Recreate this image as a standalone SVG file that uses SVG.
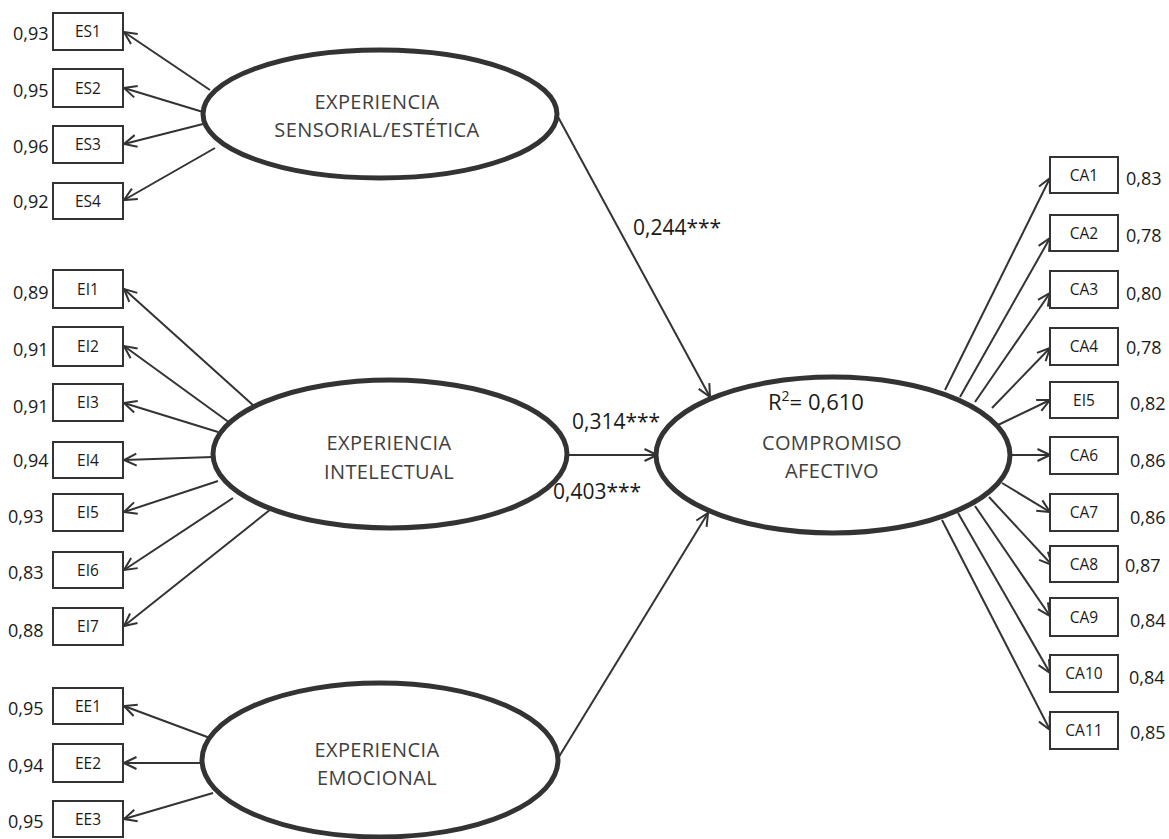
<svg xmlns="http://www.w3.org/2000/svg" width="1169" height="839" viewBox="0 0 1169 839">
<style>
.bg{fill:#fff}
.box{fill:#fff;stroke:#333;stroke-width:2}
.ell{fill:#fff;stroke:#333;stroke-width:5}
.ln{stroke:#333;stroke-width:2;fill:none;marker-end:url(#ah)}
.bl{font-family:"Open Sans","Liberation Sans",sans-serif;font-size:15.5px;fill:#1a1a1a;text-anchor:middle}
.val{font-family:"Open Sans","Liberation Sans",sans-serif;font-size:18px;fill:#1a1a1a}
.el{font-family:"Open Sans","Liberation Sans",sans-serif;font-size:20px;fill:#404040;text-anchor:middle;letter-spacing:0.4px}
.coef{font-family:"Open Sans","Liberation Sans",sans-serif;font-size:21px;fill:#1a1a1a}
</style>
<defs>
<marker id="ah" markerUnits="userSpaceOnUse" viewBox="0 0 15 15" markerWidth="15" markerHeight="15" refX="13.5" refY="7.5" orient="auto">
<path d="M1,1.5 L13.5,7.5 L1,13.5" fill="none" stroke="#333" stroke-width="2"/>
</marker>
</defs>
<rect class="bg" x="0" y="0" width="1169" height="839"/>
<g id="connectors">
<line class="ln" x1="210" y1="90" x2="124" y2="32"/>
<line class="ln" x1="203" y1="112" x2="124" y2="88"/>
<line class="ln" x1="203" y1="124" x2="124" y2="144"/>
<line class="ln" x1="215" y1="148" x2="124" y2="200"/>
<line class="ln" x1="254" y1="406" x2="124" y2="289"/>
<line class="ln" x1="230" y1="423" x2="124" y2="346"/>
<line class="ln" x1="218" y1="432" x2="124" y2="403"/>
<line class="ln" x1="213" y1="457" x2="124" y2="460"/>
<line class="ln" x1="218" y1="481" x2="124" y2="512"/>
<line class="ln" x1="233" y1="498" x2="124" y2="570"/>
<line class="ln" x1="271" y1="509" x2="124" y2="626"/>
<line class="ln" x1="210" y1="738" x2="124" y2="706"/>
<line class="ln" x1="202" y1="763" x2="124" y2="763"/>
<line class="ln" x1="213" y1="793" x2="124" y2="819"/>
<line class="ln" x1="557" y1="115" x2="710" y2="397"/>
<line class="ln" x1="568" y1="455" x2="657" y2="455"/>
<line class="ln" x1="557" y1="760" x2="708" y2="513"/>
<line class="ln" x1="945" y1="390" x2="1050" y2="178"/>
<line class="ln" x1="960" y1="397" x2="1050" y2="238"/>
<line class="ln" x1="975" y1="402" x2="1050" y2="293"/>
<line class="ln" x1="992" y1="408" x2="1050" y2="348"/>
<line class="ln" x1="998" y1="425" x2="1050" y2="400"/>
<line class="ln" x1="1010" y1="455" x2="1050" y2="455"/>
<line class="ln" x1="1002" y1="483" x2="1050" y2="512"/>
<line class="ln" x1="989" y1="497" x2="1052" y2="565"/>
<line class="ln" x1="975" y1="506" x2="1050" y2="616"/>
<line class="ln" x1="958" y1="513" x2="1050" y2="673"/>
<line class="ln" x1="942" y1="520" x2="1050" y2="730"/>
</g>
<g id="ES">
<ellipse class="ell" cx="380" cy="114" rx="177" ry="64"/>
<text class="el" x="377" y="109">EXPERIENCIA</text>
<text class="el" x="377" y="137">SENSORIAL/ESTÉTICA</text>
</g>
<g id="EI">
<ellipse class="ell" cx="390" cy="454" rx="177" ry="74"/>
<text class="el" x="389" y="450">EXPERIENCIA</text>
<text class="el" x="389" y="479">INTELECTUAL</text>
</g>
<g id="EE">
<ellipse class="ell" cx="380" cy="760" rx="178" ry="77"/>
<text class="el" x="377" y="757">EXPERIENCIA</text>
<text class="el" x="377" y="785">EMOCIONAL</text>
</g>
<g id="CA">
<ellipse class="ell" cx="833" cy="455" rx="177" ry="78"/>
<text class="coef" x="768" y="410" style="font-size:22px">R<tspan font-size="14" dy="-9">2</tspan><tspan dy="9">= 0,610</tspan></text>
<text class="el" x="832" y="450">COMPROMISO</text>
<text class="el" x="832" y="478">AFECTIVO</text>
</g>
<g id="coefs">
<text class="coef" x="633" y="235">0,244***</text>
<text class="coef" x="572" y="429">0,314***</text>
<text class="coef" x="553" y="499">0,403***</text>
</g>
<g id="ES1"><rect class="box" x="53" y="13" width="70" height="37"/><text class="bl" x="88" y="37">ES1</text><text class="val" x="13" y="40">0,93</text></g>
<g id="ES2"><rect class="box" x="53" y="69" width="70" height="38"/><text class="bl" x="88" y="93.5">ES2</text><text class="val" x="13" y="97">0,95</text></g>
<g id="ES3"><rect class="box" x="53" y="126" width="70" height="37"/><text class="bl" x="88" y="150">ES3</text><text class="val" x="13" y="153">0,96</text></g>
<g id="ES4"><rect class="box" x="53" y="183" width="70" height="36"/><text class="bl" x="88" y="206.5">ES4</text><text class="val" x="13" y="208">0,92</text></g>
<g id="EI1"><rect class="box" x="53" y="270" width="70" height="38"/><text class="bl" x="88" y="294.5">EI1</text><text class="val" x="13" y="299">0,89</text></g>
<g id="EI2"><rect class="box" x="53" y="327" width="70" height="39"/><text class="bl" x="88" y="352">EI2</text><text class="val" x="13" y="356">0,91</text></g>
<g id="EI3"><rect class="box" x="53" y="384" width="70" height="37"/><text class="bl" x="88" y="408">EI3</text><text class="val" x="13" y="413">0,91</text></g>
<g id="EI4"><rect class="box" x="53" y="442" width="70" height="36"/><text class="bl" x="88" y="465.5">EI4</text><text class="val" x="13" y="467">0,94</text></g>
<g id="EI5"><rect class="box" x="53" y="494" width="70" height="37"/><text class="bl" x="88" y="518">EI5</text><text class="val" x="8" y="523">0,93</text></g>
<g id="EI6"><rect class="box" x="53" y="552" width="70" height="36"/><text class="bl" x="88" y="575.5">EI6</text><text class="val" x="8" y="579">0,83</text></g>
<g id="EI7"><rect class="box" x="53" y="608" width="70" height="37"/><text class="bl" x="88" y="632">EI7</text><text class="val" x="8" y="637">0,88</text></g>
<g id="EE1"><rect class="box" x="53" y="688" width="70" height="36"/><text class="bl" x="88" y="711.5">EE1</text><text class="val" x="8" y="715">0,95</text></g>
<g id="EE2"><rect class="box" x="53" y="744" width="70" height="38"/><text class="bl" x="88" y="768.5">EE2</text><text class="val" x="8" y="772">0,94</text></g>
<g id="EE3"><rect class="box" x="53" y="801" width="70" height="36"/><text class="bl" x="88" y="824.5">EE3</text><text class="val" x="8" y="828">0,95</text></g>
<g id="CA1"><rect class="box" x="1050" y="157" width="68" height="36"/><text class="bl" x="1084" y="180.5">CA1</text><text class="val" x="1126" y="185">0,83</text></g>
<g id="CA2"><rect class="box" x="1050" y="215" width="68" height="36"/><text class="bl" x="1084" y="238.5">CA2</text><text class="val" x="1126" y="241.5">0,78</text></g>
<g id="CA3"><rect class="box" x="1050" y="271" width="68" height="37"/><text class="bl" x="1084" y="295">CA3</text><text class="val" x="1126" y="299.5">0,80</text></g>
<g id="CA4"><rect class="box" x="1050" y="328" width="68" height="37"/><text class="bl" x="1084" y="352">CA4</text><text class="val" x="1126" y="353.5">0,78</text></g>
<g id="CA5"><rect class="box" x="1050" y="382" width="68" height="36"/><text class="bl" x="1084" y="405.5">EI5</text><text class="val" x="1130" y="409.5">0,82</text></g>
<g id="CA6"><rect class="box" x="1050" y="437" width="68" height="37"/><text class="bl" x="1084" y="461">CA6</text><text class="val" x="1130" y="466.5">0,86</text></g>
<g id="CA7"><rect class="box" x="1050" y="494" width="68" height="37"/><text class="bl" x="1084" y="518">CA7</text><text class="val" x="1130" y="523.5">0,86</text></g>
<g id="CA8"><rect class="box" x="1050" y="546" width="68" height="36"/><text class="bl" x="1084" y="569.5">CA8</text><text class="val" x="1125" y="571.5">0,87</text></g>
<g id="CA9"><rect class="box" x="1050" y="598" width="68" height="38"/><text class="bl" x="1084" y="622.5">CA9</text><text class="val" x="1130" y="626.5">0,84</text></g>
<g id="CA10"><rect class="box" x="1050" y="655" width="68" height="37"/><text class="bl" x="1084" y="679">CA10</text><text class="val" x="1129" y="683.5">0,84</text></g>
<g id="CA11"><rect class="box" x="1050" y="712" width="68" height="37"/><text class="bl" x="1084" y="736">CA11</text><text class="val" x="1130" y="739">0,85</text></g>
</svg>
